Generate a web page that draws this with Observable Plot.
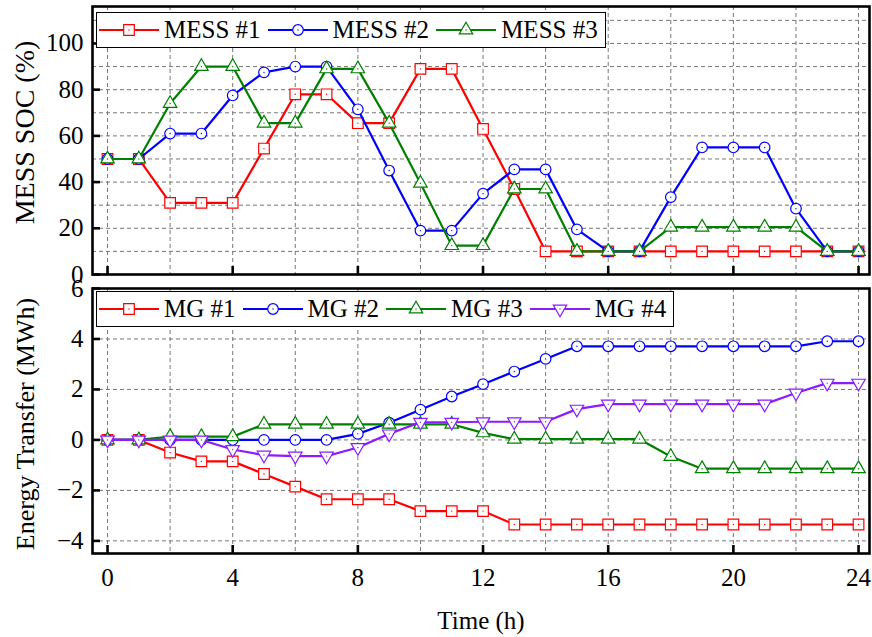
<!DOCTYPE html>
<html>
<head>
<meta charset="utf-8">
<script src="https://cdn.jsdelivr.net/npm/d3@7"></script>
<script src="https://cdn.jsdelivr.net/npm/@observablehq/plot@0.6"></script>
<style>
  body { margin: 0; background: #fff; }
  #wrap { position: relative; width: 872px; height: 637px; font-family: "Liberation Serif", "Times New Roman", serif; overflow: hidden; }
  #wrap svg.plot { position: absolute; left: 0; display: block; overflow: visible; }
  .legend { position: absolute; background: #fff; border: 1px solid #000; box-sizing: border-box; display: flex; align-items: center; padding-left: 2px; font-size: 25px; color: #000; white-space: nowrap; }
  .legend .item { display: flex; align-items: center; margin-right: 7px; }
  .legend svg { display: block; margin-right: 5px; }
</style>
</head>
<body>
<div id="wrap"></div>
<script>
// ---- data ----
const hours = [0,1,2,3,4,5,6,7,8,9,10,11,12,13,14,15,16,17,18,19,20,21,22,23,24];
const messNames = ["MESS #1", "MESS #2", "MESS #3"];
const mess1 = [50,50,31,31,31,54.5,78,78,65.5,65.5,89,89,63,37,10,10,10,10,10,10,10,10,10,10,10];
const mess2 = [50,50,61,61,77.5,87.5,90,90,71.5,45,19,19,35,45.5,45.5,19.5,10,10,33.5,55,55,55,28.5,10,10];
const mess3 = [50,50,74,90,90,65.5,65.5,89,89,65.5,39.5,12.5,12.5,37,37,10,10,10,20.5,20.5,20.5,20.5,20.5,10,10];
const mgNames = ["MG #1", "MG #2", "MG #3", "MG #4"];
const mg1 = [0,0,-0.5,-0.85,-0.85,-1.35,-1.85,-2.35,-2.35,-2.35,-2.82,-2.82,-2.82,-3.35,-3.35,-3.35,-3.35,-3.35,-3.35,-3.35,-3.35,-3.35,-3.35,-3.35,-3.35];
const mg2 = [0,0,0,0,0,0,0,0,0.24,0.68,1.2,1.72,2.21,2.71,3.21,3.71,3.71,3.71,3.71,3.71,3.71,3.71,3.71,3.91,3.91];
const mg3 = [0,0,0.13,0.13,0.13,0.62,0.62,0.62,0.62,0.62,0.62,0.62,0.28,0.03,0.03,0.03,0.03,0.03,-0.66,-1.14,-1.14,-1.14,-1.14,-1.14,-1.14];
const mg4 = [0,0,0,0,-0.38,-0.6,-0.64,-0.64,-0.3,0.24,0.7,0.7,0.72,0.72,0.72,1.22,1.42,1.42,1.42,1.42,1.42,1.42,1.86,2.25,2.25];
const socTicks = [0,20,40,60,80,100];
const socGrid = [10,20,30,40,50,60,70,80,90,100,110];
const energyTicks = [-4,-2,0,2,4,6];
const energyGrid = [-4,-2,0,2,4];
const timeTicks = [0,4,8,12,16,20,24];
const timeGrid = [0,2,4,6,8,10,12,14,16,18,20,22,24];
const yLabelTop = "MESS SOC (%)";
const yLabelBottom = "Energy Transfer (MWh)";
const xLabel = "Time (h)";

// ---- styles ----
const FONT = '"Liberation Serif", "Times New Roman", serif';
const styleOf = {
  "MESS #1": {color: "#ff0000", symbol: "square", r: 6, rotate: 0},
  "MESS #2": {color: "#0000ff", symbol: "circle", r: 5.3, rotate: 0},
  "MESS #3": {color: "#008000", symbol: "triangle", r: 5, rotate: 0},
  "MG #1": {color: "#ff0000", symbol: "square", r: 6, rotate: 0},
  "MG #2": {color: "#0000ff", symbol: "circle", r: 5.3, rotate: 0},
  "MG #3": {color: "#008000", symbol: "triangle", r: 5, rotate: 0},
  "MG #4": {color: "#8a1cff", symbol: "triangle", r: 5, rotate: 180}
};

function toRows(names, arrays) {
  return names.map((name, i) => hours.map((h, j) => ({series: name, t: h, v: arrays[i][j]})));
}
const messRows = toRows(messNames, [mess1, mess2, mess3]);
const mgRows = toRows(mgNames, [mg1, mg2, mg3, mg4]);

function seriesMarks(rowsList) {
  const marks = [];
  for (const rows of rowsList) {
    const s = styleOf[rows[0].series];
    marks.push(Plot.line(rows, {x: "t", y: "v", stroke: s.color, strokeWidth: 2.2}));
    marks.push(Plot.dot(rows, {x: "t", y: "v", symbol: s.symbol, r: s.r, rotate: s.rotate, stroke: s.color, strokeWidth: 1.2, fill: "white"}));
    marks.push(Plot.dot(rows, {x: "t", y: "v", r: 0.7, fill: s.color, stroke: "none"}));
  }
  return marks;
}

const gridStyle = {stroke: "#777", strokeOpacity: 1, strokeWidth: 1, strokeDasharray: "4,3"};
const wrap = document.getElementById("wrap");

const topChart = Plot.plot({
  width: 872, height: 280,
  marginLeft: 92, marginRight: 3, marginTop: 6, marginBottom: 6,
  x: {domain: [-0.48, 24.35]},
  y: {domain: [0, 116]},
  style: {fontFamily: FONT, fontSize: "25px", color: "#000", background: "transparent"},
  marks: [
    Plot.gridX(timeGrid, gridStyle),
    Plot.gridY(socGrid, gridStyle),
    ...seriesMarks(messRows),
    Plot.frame({stroke: "#000", strokeWidth: 2.6}),
    Plot.axisY(socTicks, {anchor: "left", tickSize: -8, tickPadding: 17, strokeWidth: 2.6, label: null, fontSize: 25}),
    Plot.axisX(timeTicks, {anchor: "bottom", tickSize: -8, strokeWidth: 2.6, tickFormat: () => "", label: null}),
    Plot.text([yLabelTop], {frameAnchor: "left", textAnchor: "middle", lineAnchor: "middle", dx: -67, dy: -8, rotate: -90, fontSize: 28, fill: "#000"})
  ]
});
topChart.classList.add("plot");
topChart.style.top = "0px";
wrap.appendChild(topChart);

const bottomChart = Plot.plot({
  width: 872, height: 357,
  marginLeft: 92, marginRight: 3, marginTop: 8, marginBottom: 84,
  x: {domain: [-0.48, 24.35]},
  y: {domain: [-4.5, 6]},
  style: {fontFamily: FONT, fontSize: "25px", color: "#000", background: "transparent"},
  marks: [
    Plot.gridX(timeGrid, gridStyle),
    Plot.gridY(energyGrid, gridStyle),
    ...seriesMarks(mgRows),
    Plot.frame({stroke: "#000", strokeWidth: 2.6}),
    Plot.axisY(energyTicks, {anchor: "left", tickSize: -8, tickPadding: 17, strokeWidth: 2.6, label: null, fontSize: 25}),
    Plot.axisX(timeTicks, {anchor: "bottom", tickSize: -8, tickPadding: 23, strokeWidth: 2.6, label: null, fontSize: 25}),
    Plot.text([yLabelBottom], {frameAnchor: "left", textAnchor: "middle", lineAnchor: "middle", dx: -67, dy: 3, rotate: -90, fontSize: 26, fill: "#000"}),
    Plot.text([xLabel], {frameAnchor: "bottom", textAnchor: "middle", lineAnchor: "middle", dy: 67, fontSize: 25, fill: "#000"})
  ]
});
bottomChart.classList.add("plot");
bottomChart.style.top = "280px";
wrap.appendChild(bottomChart);

// ---- legends ----
function symbolPath(s) {
  const types = {square: d3.symbolSquare, circle: d3.symbolCircle, triangle: d3.symbolTriangle};
  return d3.symbol(types[s.symbol], Math.PI * s.r * s.r)();
}
function makeLegend(names, left, topPx, width) {
  const box = document.createElement("div");
  box.className = "legend";
  Object.assign(box.style, {left: left + "px", top: topPx + "px", width: width + "px", height: "36px"});
  const ns = "http://www.w3.org/2000/svg";
  for (const name of names) {
    const s = styleOf[name];
    const item = document.createElement("div");
    item.className = "item";
    const svg = document.createElementNS(ns, "svg");
    svg.setAttribute("width", 60); svg.setAttribute("height", 20);
    const line = document.createElementNS(ns, "line");
    Object.entries({x1: 0, x2: 60, y1: 10, y2: 10, stroke: s.color, "stroke-width": 2.2}).forEach(([k, v]) => line.setAttribute(k, v));
    const p = document.createElementNS(ns, "path");
    Object.entries({d: symbolPath(s), transform: `translate(30,10) rotate(${s.rotate})`, fill: "white", stroke: s.color, "stroke-width": 1.2}).forEach(([k, v]) => p.setAttribute(k, v));
    const c = document.createElementNS(ns, "circle");
    Object.entries({cx: 30, cy: 10, r: 0.7, fill: s.color}).forEach(([k, v]) => c.setAttribute(k, v));
    svg.append(line, p, c);
    const span = document.createElement("span");
    span.textContent = name;
    item.append(svg, span);
    box.appendChild(item);
  }
  wrap.appendChild(box);
}
makeLegend(messNames, 96, 12, 510);
makeLegend(mgNames, 96, 291, 578);
</script>
</body>
</html>
